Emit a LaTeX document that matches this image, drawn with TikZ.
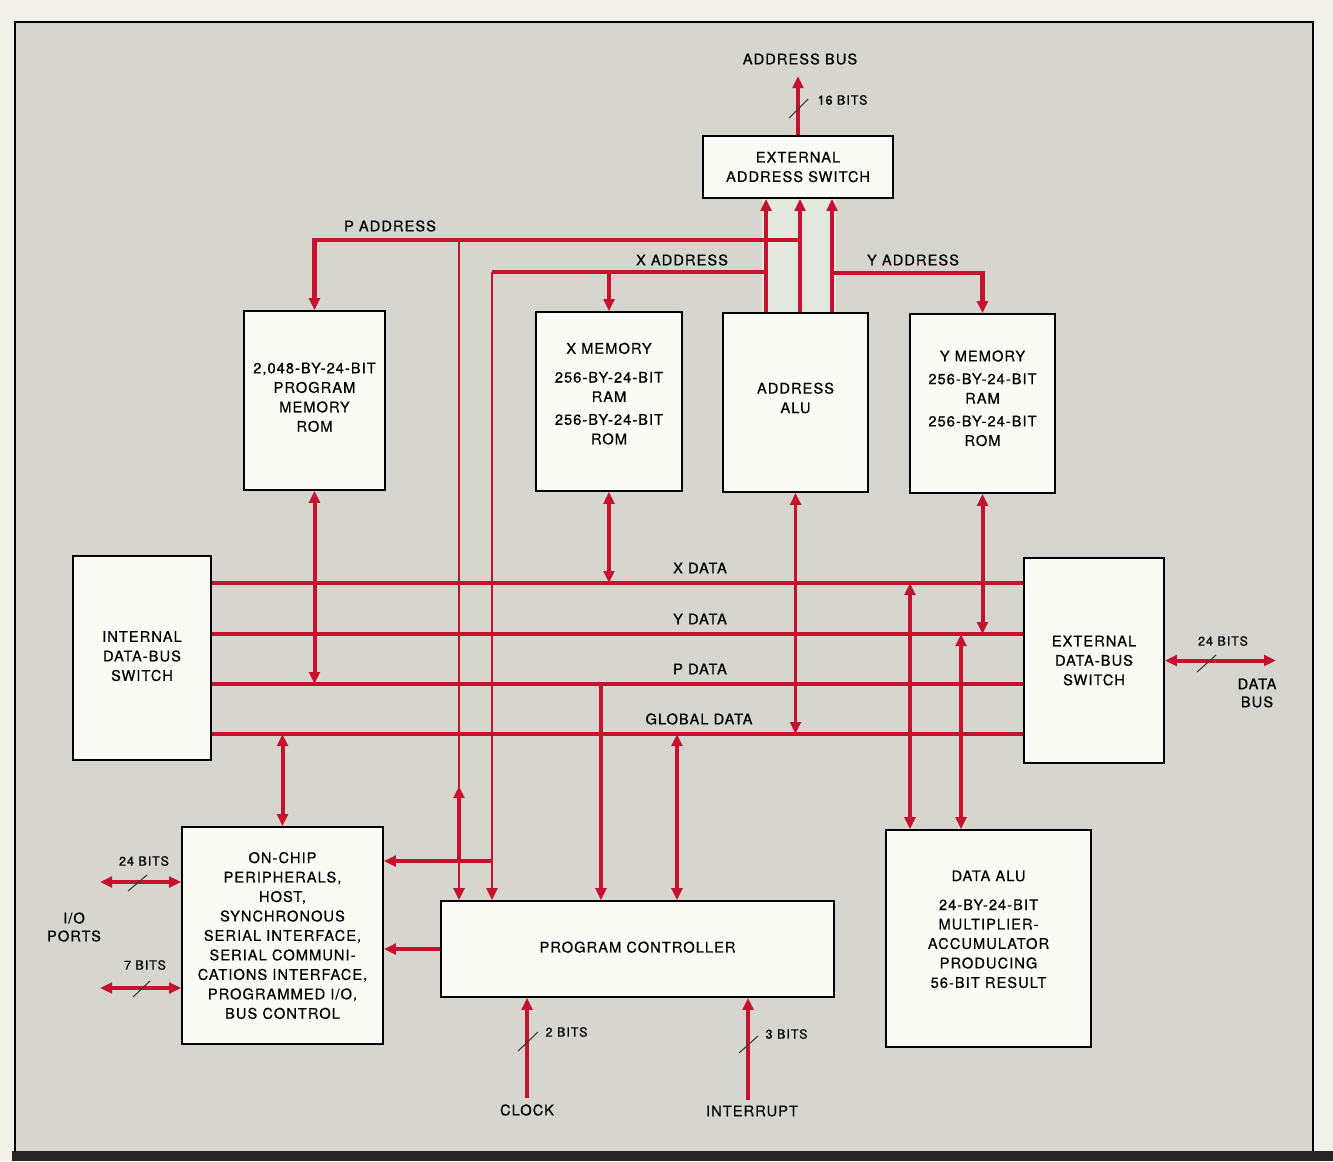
\documentclass[tikz,border=0pt]{standalone}
\usepackage{fontspec}
\setmainfont{TeX Gyre Heros}[LetterSpace=7, FakeBold=0.5]
\usetikzlibrary{arrows.meta}

\definecolor{busred}{RGB}{198,18,46}
\definecolor{panelgrey}{RGB}{214,214,207}
\definecolor{boxwhite}{RGB}{251,251,245}
\definecolor{pagecream}{RGB}{242,241,233}
\definecolor{patchgreen}{RGB}{228,232,220}

\tikzset{
  blk/.style 2 args={draw=black, fill=boxwhite, line width=1.3pt,
    minimum width=#1*0.75pt, minimum height=#2*0.75pt, inner sep=0pt,
    align=center, font=\fontsize{11}{14.6}\selectfont},
  lbl/.style={inner sep=1pt, align=center, font=\fontsize{11}{13.5}\selectfont},
  bits/.style={inner sep=1pt, font=\fontsize{9.5}{11}\selectfont},
  bus/.style={draw=busred, line width=3.4pt},
  sig/.style={draw=busred, line width=3pt},
  thinsig/.style={draw=busred, line width=2.2pt},
  slashmk/.style={draw=black!75!olive, line width=0.8pt},
}
% extra depth under the last line lifts a block's text
\newcommand{\lift}[1]{\rule[-#1]{0pt}{#1}}

\begin{document}
\begin{tikzpicture}[x=0.75pt,y=0.75pt,yscale=-1,xscale=1,>={Triangle[length=9pt,width=8pt]}]
\useasboundingbox (0,0) rectangle (1333,1161);

%Page and grey panel
\fill[pagecream] (0,0) rectangle (1333,1161);
\draw[fill=panelgrey, line width=0.9pt] (15,22) rectangle (1313,1153);
\fill[black!85] (12,1151) rectangle (1333,1161);
\fill[patchgreen] (762,198) rectangle (836,313);

%Blocks
\node[blk={190}{62}] (eas) at (798,167) {EXTERNAL\\ADDRESS SWITCH};
\node[blk={141}{179}] (pmem) at (314.5,400.5) {2,048-BY-24-BIT\\PROGRAM\\MEMORY\\ROM\lift{5pt}};
\node[blk={146}{179}] (xmem) at (609,401.5) {X MEMORY\\[7pt]256-BY-24-BIT\\RAM\\[2.5pt]256-BY-24-BIT\\ROM\lift{12pt}};
\node[blk={145}{179}] (aalu) at (795.5,402.5) {ADDRESS\\ALU\lift{7pt}};
\node[blk={145}{179}] (ymem) at (982.5,403.5) {Y MEMORY\\[2.5pt]256-BY-24-BIT\\RAM\\[2.5pt]256-BY-24-BIT\\ROM\lift{8pt}};
\node[blk={138}{204}] (idbs) at (142,658) {INTERNAL\\DATA-BUS\\SWITCH\lift{3pt}};
\node[blk={140}{205}] (edbs) at (1094,660.5) {EXTERNAL\\DATA-BUS\\SWITCH};
\node[blk={201}{217}] (peri) at (282.5,935.5) {ON-CHIP\\PERIPHERALS,\\HOST,\\SYNCHRONOUS\\SERIAL INTERFACE,\\SERIAL COMMUNI-\\CATIONS INTERFACE,\\PROGRAMMED I/O,\\BUS CONTROL};
\node[blk={393}{96}] (pctl) at (637.5,949) {PROGRAM CONTROLLER\lift{3pt}};
\node[blk={205}{217}] (dalu) at (988.5,938.5) {DATA ALU\\[7pt]24-BY-24-BIT\\MULTIPLIER-\\ACCUMULATOR\\PRODUCING\\56-BIT RESULT\lift{14pt}};

%Bus levels and tap points
\coordinate (pa) at (0,240);
\coordinate (xa) at (0,272);
\coordinate (ya) at (0,273);
\coordinate (xd) at (0,583);
\coordinate (yd) at (0,634);
\coordinate (pd) at (0,684);
\coordinate (gd) at (0,734);
\coordinate (pfeed) at (0,861);
\coordinate (rl) at (766,0);
\coordinate (rm) at (800,0);
\coordinate (rr) at (832,0);
\coordinate (pdown) at (459,240);
\coordinate (xdown) at (492,272);

%Data buses
\draw[bus] (idbs.east |- xd) -- (edbs.west |- xd);
\draw[bus] (idbs.east |- yd) -- (edbs.west |- yd);
\draw[bus] (idbs.east |- pd) -- (edbs.west |- pd);
\draw[bus] (idbs.east |- gd) -- (edbs.west |- gd);
\node[lbl] (xdl) at (700,568) {X DATA};
\node[lbl] (ydl) at (700,619) {Y DATA};
\node[lbl] (pdl) at (700,669) {P DATA};
\node[lbl] (gdl) at (699,719) {GLOBAL DATA};

%Address ALU to external address switch
\draw[sig,->] (aalu.north -| rl) -- (eas.south -| rl);
\draw[sig,->] (aalu.north -| rm) -- (eas.south -| rm);
\draw[sig,->] (aalu.north -| rr) -- (eas.south -| rr);

%Address buses
\draw[bus,->] (rm |- pa) -- (pmem.north |- pa) -- (pmem.north);
\draw[bus] (rl |- xa) -- (xdown);
\draw[bus,->] (xmem.north |- xa) -- (xmem.north);
\draw[bus,->] (rr |- ya) -- (ymem.north |- ya) -- (ymem.north);
\node[lbl] (pal) at (390,226) {P ADDRESS};
\node[lbl] (xal) at (682,260) {X ADDRESS};
\node[lbl] (yal) at (913,260) {Y ADDRESS};

%Address lines down to the program controller
\draw[thinsig,->] (pdown) -- (pctl.north -| pdown);
\draw[thinsig,->] (xdown) -- (pctl.north -| xdown);
\draw[sig,->] (pdown |- pfeed) -- (459,786);
\draw[sig,->] (xdown |- pfeed) -- (peri.east |- pfeed);

%Memories to data buses
\draw[sig,<->] (pmem.south) -- (pmem.south |- pd);
\draw[sig,<->] (xmem.south) -- (xmem.south |- xd);
\draw[thinsig,<->] (aalu.south) -- (aalu.south |- gd);
\draw[sig,<->] (ymem.south) -- (ymem.south |- yd);

%Data buses to lower blocks
\coordinate (pdtap) at (601,684);
\coordinate (gdtap) at (677,734);
\coordinate (xdtap) at (910,583);
\coordinate (ydtap) at (961,634);
\draw[sig,<->] (peri.north |- gd) -- (peri.north);
\draw[sig,->] (pdtap) -- (pctl.north -| pdtap);
\draw[sig,<->] (gdtap) -- (pctl.north -| gdtap);
\draw[sig,<->] (xdtap) -- (dalu.north -| xdtap);
\draw[sig,<->] (ydtap) -- (dalu.north -| ydtap);
\draw[sig,->] (pctl.west) -- (peri.east |- pctl.west);

%Address bus out
\coordinate (abtip) at (798,76);
\node[lbl] (abus) at (800,59) {ADDRESS BUS};
\draw[sig,->] (eas.north) -- (abtip);
\draw[slashmk] (789,118) -- (808,99);
\node[bits, anchor=west] (b16) at (816,100) {16 BITS};

%External data bus
\coordinate (dbtip) at (1276,0);
\draw[sig,<->] (edbs.east) -- (edbs.east -| dbtip);
\draw[slashmk] (1197,672) -- (1216,655);
\node[bits] (b24d) at (1223,641) {24 BITS};
\node[lbl] (dbus) at (1257,693) {DATA\\BUS};

%I/O ports
\coordinate (io1) at (100,882);
\coordinate (io2) at (100,988);
\draw[sig,<->] (io1) -- (peri.west |- io1);
\draw[sig,<->] (io2) -- (peri.west |- io2);
\draw[slashmk] (128,891) -- (147,875);
\draw[slashmk] (133,997) -- (150,981);
\node[bits] (b24p) at (144,861) {24 BITS};
\node[bits] (b7p) at (145,965) {7 BITS};
\node[lbl] (iop) at (74,927) {I/O\\PORTS};

%Clock and interrupt
\node[lbl] (clk) at (527,1110) {CLOCK};
\node[lbl] (intr) at (752,1111) {INTERRUPT};
\coordinate (clkx) at (527,1098);
\coordinate (intx) at (748,1100);
\draw[sig,->] (clkx) -- (pctl.south -| clkx);
\draw[sig,->] (intx) -- (pctl.south -| intx);
\draw[slashmk] (518,1051) -- (538,1032);
\draw[slashmk] (739,1053) -- (758,1036);
\node[bits, anchor=west] (b2) at (544,1032) {2 BITS};
\node[bits, anchor=west] (b3) at (764,1034) {3 BITS};

\end{tikzpicture}
\end{document}
